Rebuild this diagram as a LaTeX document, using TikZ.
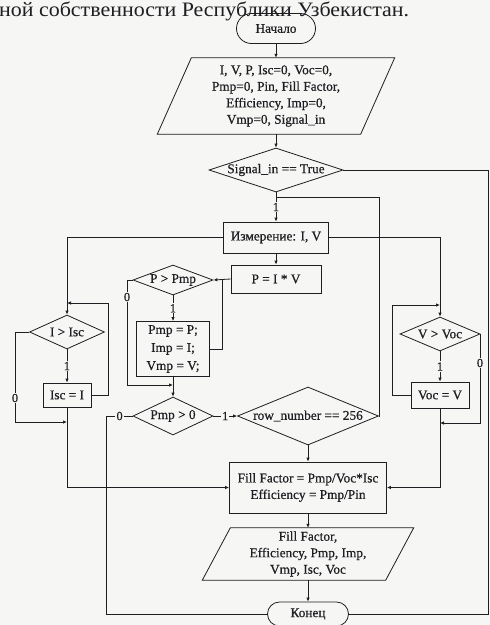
\documentclass[tikz,border=0pt]{standalone}
\usepackage{graphicx}
\usepackage{fontspec}
\setmainfont{Liberation Serif}
\newfontfamily\dfont{Liberation Serif}[FakeBold=0.6]
\usetikzlibrary{shapes.geometric,shapes.misc,arrows.meta,calc}
\definecolor{paper}{RGB}{246,246,244}
\definecolor{ink}{RGB}{30,30,35}
\begin{document}
\begin{tikzpicture}[x=1pt,y=-1pt,
  every node/.style={font=\dfont\fontsize{13.3}{16.5}\selectfont, text=ink},
  line/.style={draw=ink, line width=0.8pt},
  arr/.style={line, -{Latex[length=4pt,width=3.5pt]}},
  box/.style={draw=ink, line width=0.8pt, rectangle, inner sep=0pt, align=center},
  dia/.style={draw=ink, line width=0.8pt, diamond, inner sep=0pt},
  term/.style={draw=ink, line width=0.8pt, rounded rectangle, inner sep=0pt},
  io/.style={rectangle, inner sep=0pt, align=center},
  lab/.style={fill=paper, inner sep=1pt, font=\dfont\fontsize{12.5}{12.5}\selectfont}
]
\fill[paper] (0,0) rectangle (490,625);
\useasboundingbox (0,0) rectangle (490,625);

\node[anchor=base west, inner sep=0pt, font=\fontsize{20.5}{20.5}\selectfont] (title) at (-1,16) {\scalebox{1.07}[1]{ной собственности Республики Узбекистан.}};

% nodes
\node[term, minimum width=79pt, minimum height=30pt] (start) at (276,28.5) {Начало};
\node[io, minimum width=203pt, minimum height=76pt] (in1) at (276,96) {I, V, P, Isc=0, Voc=0,\\Pmp=0, Pin, Fill Factor,\\Efficiency, Imp=0,\\Vmp=0, Signal\_in};
\draw[line] ($(in1.north west)+(17,0)$) -- ($(in1.north east)+(17,0)$) -- ($(in1.south east)+(-17,0)$) -- ($(in1.south west)+(-17,0)$) -- cycle;
\node[dia, minimum width=134pt, minimum height=44pt, label=center:{Signal\_in == True}] (sig) at (276,170) {};
\node[box, minimum width=105pt, minimum height=31pt] (izm) at (276,237.5) {Измерение: I, V};
\node[box, minimum width=90pt, minimum height=28pt] (piv) at (276,279) {P = I * V};
\node[dia, minimum width=80pt, minimum height=30pt, label=center:{P > Pmp}] (ppmp) at (173,280) {};
\node[box, minimum width=73pt, minimum height=55pt, font=\dfont\fontsize{13.3}{18}\selectfont] (pmpb) at (173,349) {Pmp = P;\\Imp = I;\\Vmp = V;};
\node[dia, minimum width=80pt, minimum height=38pt, label=center:{Pmp > 0}] (pmp0) at (173,416) {};
\node[dia, minimum width=141pt, minimum height=58pt, label=center:{row\_number == 256}] (row) at (308,416) {};
\node[dia, minimum width=75pt, minimum height=34pt, label=center:{I > Isc}] (iisc) at (67,332) {};
\node[box, minimum width=48pt, minimum height=24pt] (iscb) at (67,395) {Isc = I};
\node[dia, minimum width=80pt, minimum height=34pt, label=center:{V > Voc}] (vvoc) at (440,334) {};
\node[box, minimum width=58pt, minimum height=26pt] (vocb) at (440,395) {Voc = V};
\node[box, minimum width=157pt, minimum height=51pt] (ff) at (308,487.5) {Fill Factor = Pmp/Voc*Isc\\Efficiency = Pmp/Pin};
\node[io, minimum width=183pt, minimum height=52pt] (out) at (308,554) {Fill Factor,\\Efficiency, Pmp, Imp,\\Vmp, Isc, Voc};
\draw[line] ($(out.north west)+(14,0)$) -- ($(out.north east)+(14,0)$) -- ($(out.south east)+(-14,0)$) -- ($(out.south west)+(-14,0)$) -- cycle;
\node[term, minimum width=81pt, minimum height=24pt] (end) at (308,614) {Конец};

% helper coordinates
\coordinate (j1) at (276,197);
\coordinate (j2) at (379,197);
\coordinate (jp) at (222,280);
\coordinate (p0b) at (127,385);
\coordinate (j3) at (173,385);
\coordinate (ia) at (108,303);
\coordinate (ib) at (67,303);
\coordinate (ic) at (15,422);
\coordinate (id) at (67,422);
\coordinate (va) at (392,305);
\coordinate (vb) at (440,305);
\coordinate (vc) at (480,423);
\coordinate (vd) at (440,423);
\coordinate (ra) at (488,170);

% connectors
\draw[arr] (start.south) -- (in1.north);
\draw[arr] (in1.south) -- (sig.north);
\draw[arr] (sig.south) -- node[lab] (l1) {1} (izm.north);
\draw[line] (row.east) -| (j2) -- (j1);
\draw[line] (sig.east) -- (ra) |- (end.east);
\draw[arr] (izm.south) -- (piv.north);
\draw[arr] (piv.west) -- (ppmp.east);
\draw[arr] (ppmp.south) -- node[lab] (l2) {1} (pmpb.north);
\draw[line] (pmpb.east) -| (jp);
\draw[arr] (ppmp.west) -| (p0b) -- (j3);
\node[lab] (l3) at (127,297) {0};
\draw[arr] (pmpb.south) -- (pmp0.north);
\draw[arr] (pmp0.east) -- node[lab] (l4) {1} (row.west);
\draw[line] (pmp0.west) -- node[lab] (l5) {0} ++(-26,0) |- (end.west);
\draw[arr] (row.south) -- (ff.north);

\draw[arr] (izm.west) -| (iisc.north);
\draw[arr] (iisc.south) -- node[lab] (l6) {1} (iscb.north);
\draw[arr] (iscb.east) -| (ia) -- (ib);
\draw[arr] (iisc.west) -| (ic) -- (id);
\node[lab] (l7) at (15,398) {0};
\draw[arr] (iscb.south) |- (ff.west);

\draw[arr] (izm.east) -| (vvoc.north);
\draw[arr] (vvoc.south) -- node[lab] (l8) {1} (vocb.north);
\draw[arr] (vocb.west) -| (va) -- (vb);
\draw[arr] (vvoc.east) -| (vc) -- (vd);
\node[lab] (l9) at (480,363) {0};
\draw[arr] (vocb.south) |- (ff.east);

\draw[arr] (ff.south) -- (out.north);
\draw[arr] (out.south) -- (end.north);
\end{tikzpicture}
\end{document}
